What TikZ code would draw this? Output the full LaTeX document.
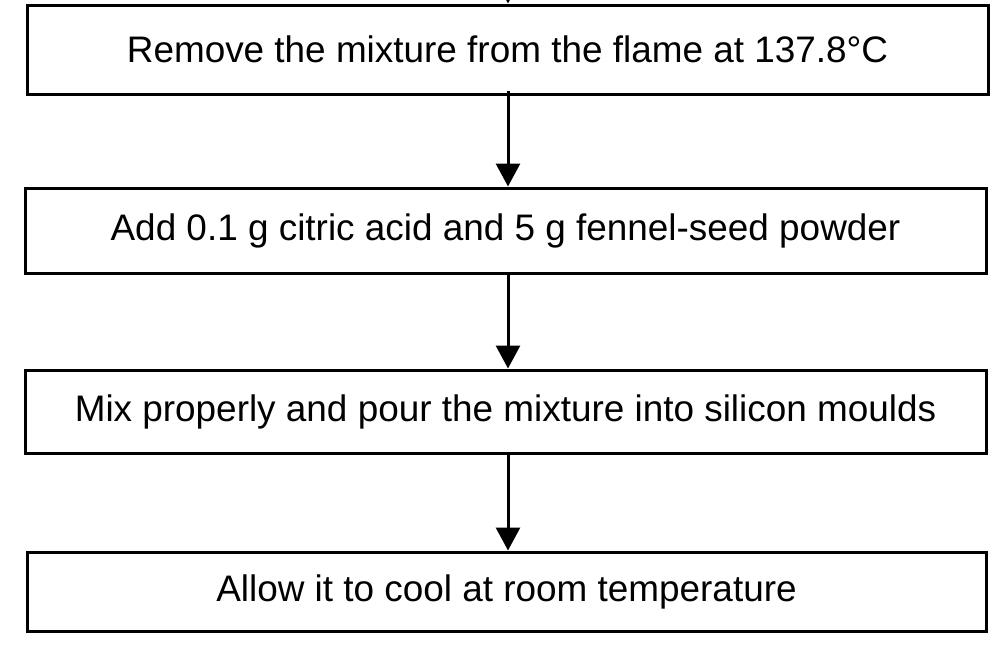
\documentclass[tikz,border=0pt]{standalone}
\usepackage{fontspec}
\setmainfont{Liberation Sans}
\usetikzlibrary{arrows.meta}
\begin{document}
\begin{tikzpicture}[x=1pt,y=-1pt,
  stepbox/.style={draw=black,line width=3pt,rectangle,inner sep=0pt,fill=white,
    font=\fontsize{36.9}{44}\selectfont},
  arr/.style={line width=3pt,-{Triangle[length=23pt,width=24pt]}}]
\useasboundingbox (0,0) rectangle (1004,648);
\node[stepbox,minimum width=961pt,minimum height=89pt] (b1) at (507.5,49.5) {Remove the mixture from the flame at 137.8°C};
\node[stepbox,minimum width=961pt,minimum height=85pt] (b2) at (505.5,230.5) {Add 0.1 g citric acid and 5 g fennel-seed powder};
\node[stepbox,minimum width=961pt,minimum height=83pt] (b3) at (505.5,411.5) {Mix properly and pour the mixture into silicon moulds};
\node[stepbox,minimum width=959pt,minimum height=79pt] (b4) at (506.5,591.5) {Allow it to cool at room temperature};
\coordinate (top) at (508,-40);
\draw[arr] (top) -- (b1.north -| top);
\draw[arr] ([yshift=5pt]b1.south -| top) -- (b2.north -| top);
\draw[arr] (b2.south -| top) -- (b3.north -| top);
\draw[arr] (b3.south -| top) -- (b4.north -| top);
\end{tikzpicture}
\end{document}
